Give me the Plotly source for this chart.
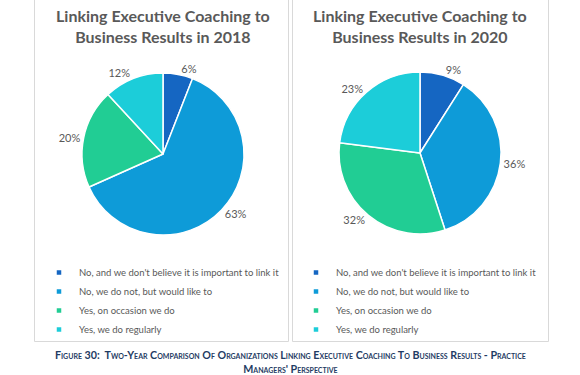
import plotly.graph_objects as go

categories = [
    "No, and we don't believe it is important to link it",
    "No, we do not, but would like to",
    "Yes, on occasion we do",
    "Yes, we do regularly",
]
values_2018 = [6, 63, 20, 12]
values_2020 = [9, 36, 32, 23]
titles = ["Linking Executive Coaching to<br>Business Results in 2018",
          "Linking Executive Coaching to<br>Business Results in 2020"]
caption = ("Figure 30:  Two-Year Comparison Of Organizations Linking Executive Coaching To Business Results - Practice"
           "<br>Managers' Perspective")

colors = ["#1566c2", "#0e9bd8", "#21cd94", "#1ccdd9"]
W, H = 580, 375
gray = "#595959"
font_family = "Lato, 'Open Sans', sans-serif"

def px(x):
    return x / W

def py(y):
    return 1 - y / H

fig = go.Figure()

pie_boxes = [(82, 244, 73, 235), (339, 501, 72, 234)]
for i, (vals, box) in enumerate(zip([values_2018, values_2020], pie_boxes)):
    x0, x1, y0, y1 = box
    fig.add_trace(go.Pie(
        labels=categories,
        values=vals,
        text=[f"{v}%" for v in vals],
        texttemplate="%{text}",
        textposition="outside",
        textfont=dict(size=11, color=gray, family=font_family),
        sort=False,
        direction="clockwise",
        rotation=0,
        automargin=False,
        marker=dict(colors=colors, line=dict(color="white", width=1.5)),
        domain=dict(x=[px(x0), px(x1)], y=[py(y1), py(y0)]),
        showlegend=False,
        hoverinfo="label+text",
    ))

# legend entries (one legend per panel)
for li, leg in enumerate(["legend", "legend2"]):
    for c, col in zip(categories, colors):
        fig.add_trace(go.Scatter(
            x=[None], y=[None], mode="markers", name=c,
            marker=dict(symbol="square", size=4.5, color=col),
            legend=leg, showlegend=True, hoverinfo="skip",
        ))

fig.update_xaxes(visible=False)
fig.update_yaxes(visible=False)

legend_style = dict(
    font=dict(size=9.5, color=gray, family=font_family),
    bgcolor="rgba(0,0,0,0)",
    itemwidth=30,
    tracegroupgap=0,
    xanchor="left", yanchor="top",
    itemclick=False, itemdoubleclick=False,
)
fig.update_layout(
    width=W, height=H,
    margin=dict(l=0, r=0, t=0, b=0),
    paper_bgcolor="white",
    plot_bgcolor="white",
    font=dict(family=font_family, color=gray),
    legend=dict(x=px(39), y=py(258), **legend_style),
    legend2=dict(x=px(296), y=py(258), **legend_style),
    shapes=[
        dict(type="rect", xref="paper", yref="paper", x0=px(34.5), x1=px(288.5), y0=py(341.5), y1=py(-5),
             line=dict(color="#d9d9d9", width=1)),
        dict(type="rect", xref="paper", yref="paper", x0=px(292.5), x1=px(548.5), y0=py(341.5), y1=py(-5),
             line=dict(color="#d9d9d9", width=1)),
    ],
    annotations=[
        dict(text=titles[0], x=px(163), y=py(26), xref="paper", yref="paper", showarrow=False,
             xanchor="center", yanchor="middle", align="center",
             font=dict(size=16, color=gray, family=font_family, weight="bold")),
        dict(text=titles[1], x=px(420), y=py(26), xref="paper", yref="paper", showarrow=False,
             xanchor="center", yanchor="middle", align="center",
             font=dict(size=16, color=gray, family=font_family, weight="bold")),
        dict(text=caption, x=px(290), y=py(346), xref="paper", yref="paper", showarrow=False,
             xanchor="center", yanchor="top", align="center",
             font=dict(size=10.7, color="#1f3c64", family=font_family, weight="bold", variant="small-caps")),
    ],
)

fig.write_html("out.html", config={"displayModeBar": False},
               post_script="document.body.style.margin='0';document.body.style.overflow='hidden';")
